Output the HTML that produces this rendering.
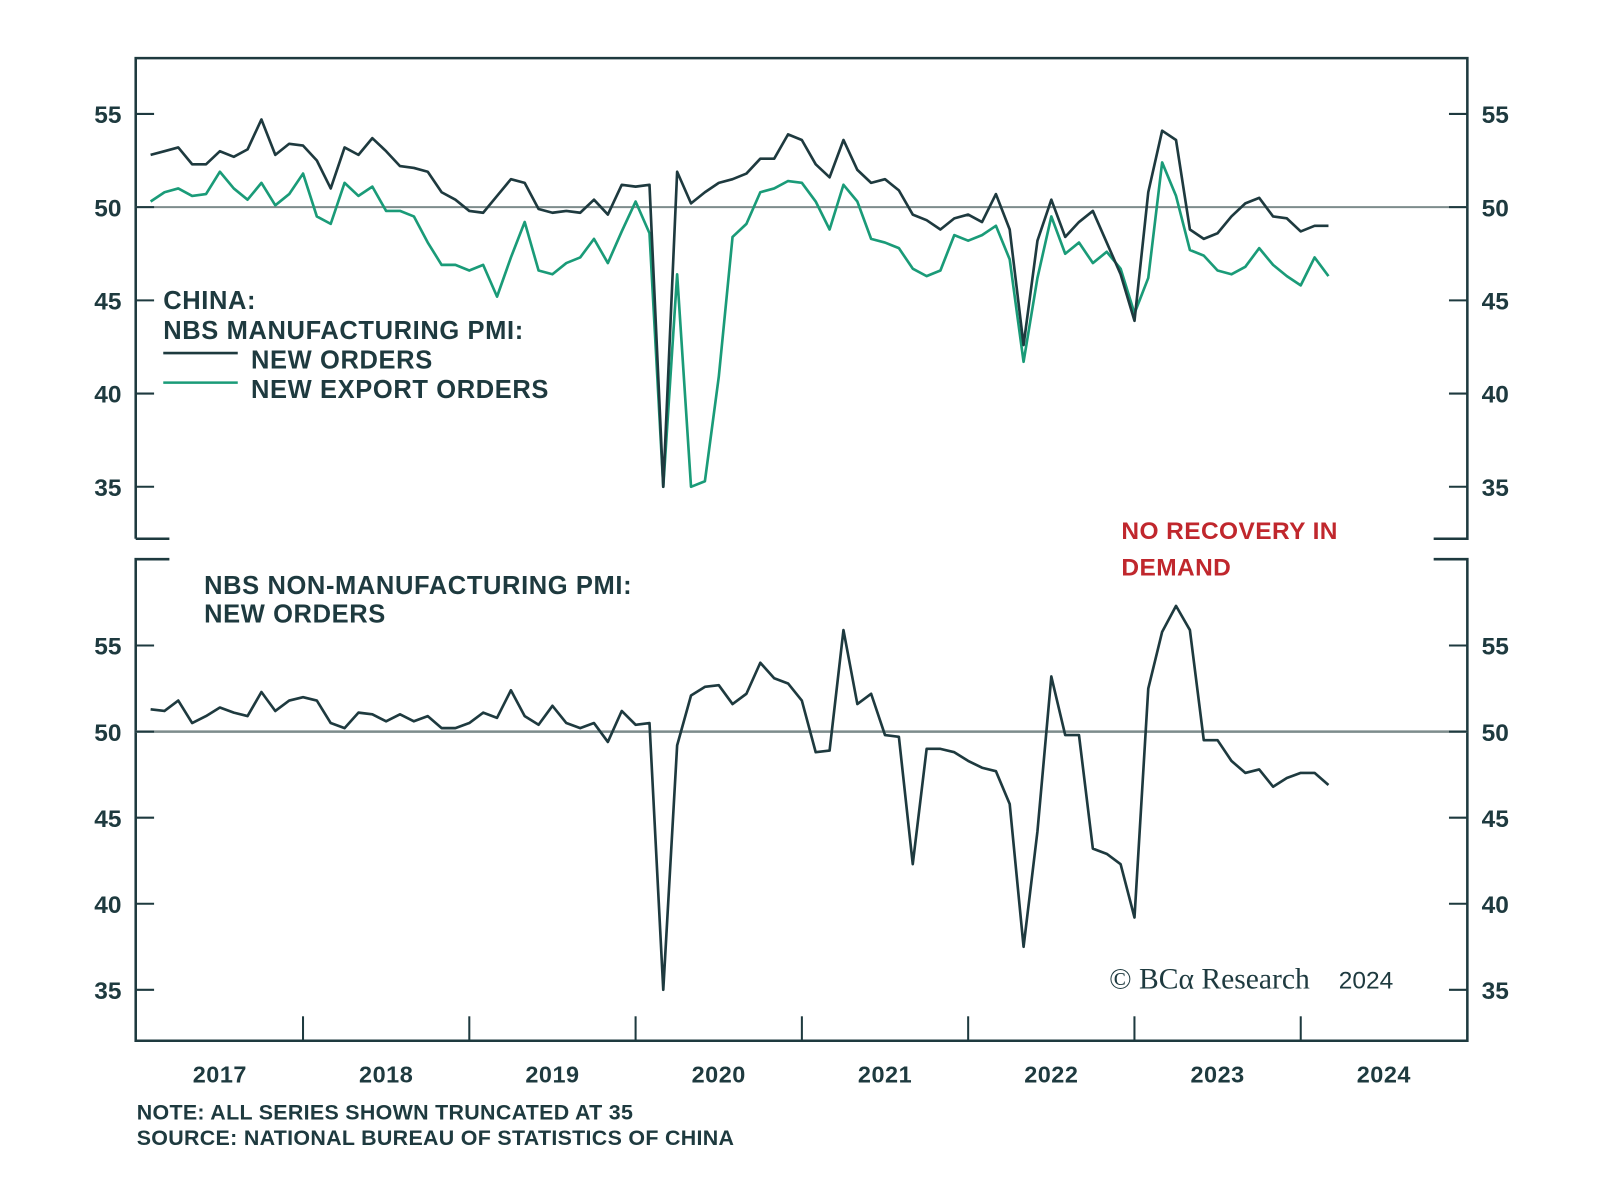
<!DOCTYPE html>
<html><head><meta charset="utf-8"><style>
body{margin:0;background:#fff;}
svg{display:block;font-family:"Liberation Sans",sans-serif;}
</style></head><body>
<svg id="chart" width="1600" height="1177" viewBox="0 0 1568 1153.5" preserveAspectRatio="none"></svg>
<script>
const months = 86; // Jan 2017 .. Feb 2024
const mfgNewOrders = [52.8,53.0,53.2,52.3,52.3,53.0,52.7,53.1,54.7,52.8,53.4,53.3,52.5,51.0,53.2,52.8,53.7,53.0,52.2,52.1,51.9,50.8,50.4,49.8,49.7,50.6,51.5,51.3,49.9,49.7,49.8,49.7,50.4,49.6,51.2,51.1,51.2,35.0,51.9,50.2,50.8,51.3,51.5,51.8,52.6,52.6,53.9,53.6,52.3,51.6,53.6,52.0,51.3,51.5,50.9,49.6,49.3,48.8,49.4,49.6,49.2,50.7,48.8,42.6,48.2,50.4,48.4,49.2,49.8,48.1,46.4,43.9,50.8,54.1,53.6,48.8,48.3,48.6,49.5,50.2,50.5,49.5,49.4,48.7,49.0,49.0];
const mfgExportOrders = [50.3,50.8,51.0,50.6,50.7,51.9,51.0,50.4,51.3,50.1,50.7,51.8,49.5,49.1,51.3,50.6,51.1,49.8,49.8,49.5,48.1,46.9,46.9,46.6,46.9,45.2,47.3,49.2,46.6,46.4,47.0,47.3,48.3,47.0,48.7,50.3,48.6,35.0,46.4,35.0,35.3,40.9,48.4,49.1,50.8,51.0,51.4,51.3,50.3,48.8,51.2,50.3,48.3,48.1,47.8,46.7,46.3,46.6,48.5,48.2,48.5,49.0,47.2,41.7,46.2,49.5,47.5,48.1,47.0,47.6,46.7,44.3,46.2,52.4,50.6,47.7,47.4,46.6,46.4,46.8,47.8,46.9,46.3,45.8,47.3,46.3];
const nonMfgNewOrders = [51.3,51.2,51.8,50.5,50.9,51.4,51.1,50.9,52.3,51.2,51.8,52.0,51.8,50.5,50.2,51.1,51.0,50.6,51.0,50.6,50.9,50.2,50.2,50.5,51.1,50.8,52.4,50.9,50.4,51.5,50.5,50.2,50.5,49.4,51.2,50.4,50.5,35.0,49.2,52.1,52.6,52.7,51.6,52.2,54.0,53.1,52.8,51.8,48.8,48.9,55.9,51.6,52.2,49.8,49.7,42.3,49.0,49.0,48.8,48.3,47.9,47.7,45.8,37.5,44.2,53.2,49.8,49.8,43.2,42.9,42.3,39.2,52.5,55.8,57.3,55.9,49.5,49.5,48.3,47.6,47.8,46.8,47.3,47.6,47.6,46.9];
const yTicks = [35,40,45,50,55];
const years = ["2017","2018","2019","2020","2021","2022","2023","2024"];

const NS="http://www.w3.org/2000/svg";
const svg=document.getElementById('chart');
const DARK="#1e3a3f", GREEN="#1a9b78", GRID="#7d8c8c";
const L=133,R=1438,X0=134,MW=13.58;
const x=i=>X0+(i+1)*MW;
const yTop=v=>203-(v-50)*18.27;
const yBot=v=>717-(v-50)*16.87;
function mk(tag,attrs,parent){const e=document.createElementNS(NS,tag);for(const k in attrs)e.setAttribute(k,attrs[k]);(parent||svg).appendChild(e);return e;}
function txt(s,xx,yy,attrs){const t=mk('text',Object.assign({x:xx,y:yy},attrs));t.textContent=s;return t;}

let f;
f=mk('path',{d:`M${L} 528 V57 H${R} V528 H1405 M166 528 H${L}`,fill:'none',stroke:DARK,'stroke-width':2.5});


f=mk('path',{d:`M166 548 H${L} V1020 H${R} V548 H1405`,fill:'none',stroke:DARK,'stroke-width':2.5});



f=mk('line',{x1:L,x2:R,y1:yTop(50),y2:yTop(50),stroke:GRID,'stroke-width':2});


f=mk('line',{x1:L,x2:R,y1:yBot(50),y2:yBot(50),stroke:GRID,'stroke-width':2.5});



yTicks.forEach(v=>{
  [[yTop,'top'],[yBot,'bottom']].forEach(([fy,nm])=>{
    const yy=fy(v);
    let t=mk('line',{x1:L,x2:151,y1:yy,y2:yy,stroke:DARK,'stroke-width':2});
    
    
    t=mk('line',{x1:1420,x2:R,y1:yy,y2:yy,stroke:DARK,'stroke-width':2});
    
    
    t=txt(String(v),119,yy+9,{'font-size':24,'font-weight':'bold',fill:DARK,'text-anchor':'end'});
    
    
    t=txt(String(v),1452,yy+9,{'font-size':24,'font-weight':'bold',fill:DARK});
    
    
  });
});

years.forEach((yr,i)=>{
  const xs=X0+i*12*MW;
  if(i>0){const t=mk('line',{x1:xs,x2:xs,y1:1020,y2:996,stroke:DARK,'stroke-width':2});
    
    }
  const lb=txt(yr,xs+6*MW,1061,{'font-size':23,'font-weight':'bold',fill:DARK,'text-anchor':'middle','letter-spacing':0.5});
  
  
});

function line(arr,fy,color,w,name){
  const d=arr.map((v,i)=>(i?'L':'M')+x(i).toFixed(1)+' '+fy(v).toFixed(1)).join(' ');
  const p=mk('path',{d:d,fill:'none',stroke:color,'stroke-width':w,'stroke-linejoin':'round'});
  
  
}
line(mfgExportOrders,yTop,GREEN,2.6,'new-export-orders-line');
line(mfgNewOrders,yTop,DARK,2.6,'mfg-new-orders-line');
line(nonMfgNewOrders,yBot,DARK,2.6,'non-mfg-new-orders-line');

const fs={'font-size':25,'font-weight':'bold',fill:DARK,'letter-spacing':0.6};
let t;
t=txt('CHINA:',160,303,fs);
t=txt('NBS MANUFACTURING PMI:',160,332,fs);
t=mk('line',{x1:160,x2:233,y1:346,y2:346,stroke:DARK,'stroke-width':2.5});
t=txt('NEW ORDERS',246,361,fs);
t=mk('line',{x1:160,x2:233,y1:375,y2:375,stroke:GREEN,'stroke-width':2.5});
t=txt('NEW EXPORT ORDERS',246,390,fs);
t=txt('NBS NON-MANUFACTURING PMI:',200,582,fs);
t=txt('NEW ORDERS',200,610,fs);
t=txt('NO RECOVERY IN',1099,528,{'font-size':24,'font-weight':'bold',fill:'#c0272d','letter-spacing':0.4});
t=txt('DEMAND',1099,564,{'font-size':24,'font-weight':'bold',fill:'#c0272d','letter-spacing':0.4});
t=txt('© BCα Research',1087,969,{'font-size':29,'font-family':'Liberation Serif,serif',fill:DARK});
t=txt('2024',1312,969,{'font-size':24,fill:DARK});
t=txt('NOTE: ALL SERIES SHOWN TRUNCATED AT 35',134,1097,{'font-size':21,'font-weight':'bold',fill:DARK,'letter-spacing':0.3});
t=txt('SOURCE: NATIONAL BUREAU OF STATISTICS OF CHINA',134,1122,{'font-size':21,'font-weight':'bold',fill:DARK,'letter-spacing':0.3});
</script>
</body></html>
